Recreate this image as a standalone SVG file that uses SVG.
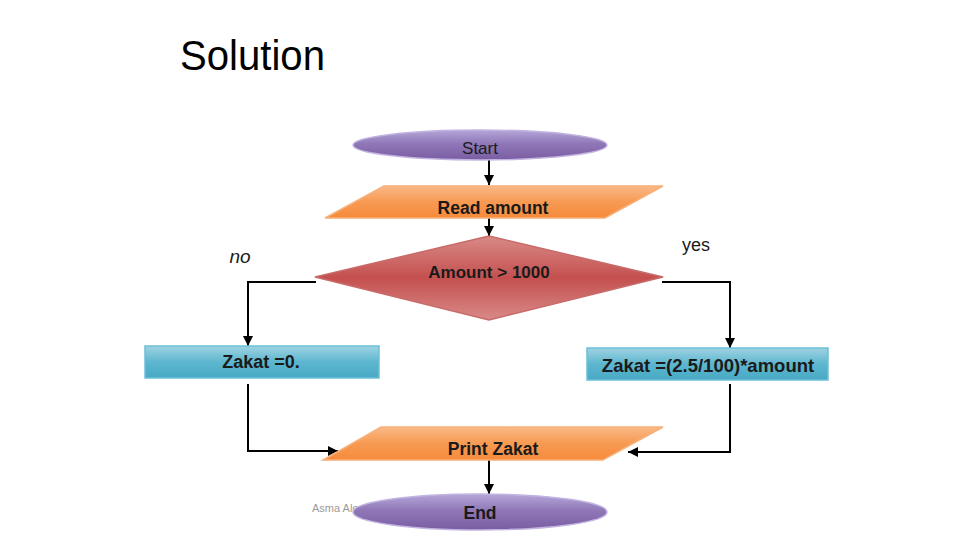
<svg xmlns="http://www.w3.org/2000/svg" width="960" height="540" viewBox="0 0 960 540">
<defs>
<linearGradient id="gPurple" x1="0" y1="0" x2="0" y2="1">
<stop offset="0" stop-color="#b4a6d8"/><stop offset="0.45" stop-color="#9078b8"/><stop offset="1" stop-color="#7a5ca2"/>
</linearGradient>
<linearGradient id="gOrange" x1="0" y1="0" x2="0" y2="1">
<stop offset="0" stop-color="#f9b987"/><stop offset="0.5" stop-color="#f79a52"/><stop offset="1" stop-color="#f58b3c"/>
</linearGradient>
<linearGradient id="gRed" x1="0" y1="0" x2="0" y2="1">
<stop offset="0" stop-color="#d88a88"/><stop offset="0.5" stop-color="#c4504f"/><stop offset="1" stop-color="#d88a88"/>
</linearGradient>
<linearGradient id="gBlue" x1="0" y1="0" x2="0" y2="1">
<stop offset="0" stop-color="#9fd3e2"/><stop offset="0.5" stop-color="#5db6cf"/><stop offset="1" stop-color="#48a9c4"/>
</linearGradient>
<marker id="arr" viewBox="0 0 10 10" refX="10" refY="5" markerWidth="5" markerHeight="5" orient="auto" markerUnits="strokeWidth">
<path d="M0,0 L10,5 L0,10 z" fill="#000"/>
</marker>
<style>
.t{font-family:"Liberation Sans",Arial,sans-serif;fill:#1a1a1a;text-anchor:middle}
.b{font-weight:bold}
.conn{fill:none;stroke:#000;stroke-width:2}
.term{fill:url(#gPurple);stroke:#c2b4e0;stroke-width:1.5}
.io{fill:url(#gOrange);stroke:#f8b07a;stroke-width:1.5}
.dec{fill:url(#gRed);stroke:#c86a68;stroke-width:1.5}
.proc{fill:url(#gBlue);stroke:#6cc0d8;stroke-width:1.5}
</style>
</defs>
<rect width="960" height="540" fill="#fff"/>
<text x="180" y="70" font-family="Liberation Sans, Arial, sans-serif" font-size="42" fill="#000" textLength="145" lengthAdjust="spacingAndGlyphs">Solution</text>
<text x="312" y="512" font-family="Liberation Sans, Arial, sans-serif" font-size="11" fill="#9a9a9a">Asma Alo</text>
<g id="connectors">
<path class="conn" d="M489,160 L489,185" marker-end="url(#arr)"/>
<path class="conn" d="M489,218 L489,236" marker-end="url(#arr)"/>
<path class="conn" d="M316,282 L248,282 L248,346" marker-end="url(#arr)"/>
<path class="conn" d="M662,282 L730,282 L730,348" marker-end="url(#arr)"/>
<path class="conn" d="M248,384 L248,451 L338,451" marker-end="url(#arr)"/>
<path class="conn" d="M730,384 L730,452 L628,452" marker-end="url(#arr)"/>
<path class="conn" d="M489,460 L489,494" marker-end="url(#arr)"/>
</g>
<g id="start">
<ellipse class="term" cx="480" cy="145" rx="127" ry="15"/>
<text class="t" x="480" y="154" font-size="17">Start</text>
</g>
<g id="read">
<polygon class="io" points="384,186 663,186 605,218 325,218"/>
<text class="t b" x="493" y="214" font-size="17.5">Read amount</text>
</g>
<g id="decision">
<polygon class="dec" points="489,236 663,277 489,320 315,277"/>
<text class="t b" x="489" y="278" font-size="17">Amount &gt; 1000</text>
</g>
<text class="t" x="240" y="263" font-size="19" font-style="italic">no</text>
<text class="t" x="696" y="251" font-size="18">yes</text>
<g id="zakat0">
<rect class="proc" x="145" y="346" width="234" height="32"/>
<text class="t b" x="261" y="368" font-size="18">Zakat =0.</text>
</g>
<g id="zakatcalc">
<rect class="proc" x="587" y="348" width="241" height="32"/>
<text class="t b" x="708" y="372" font-size="18.5">Zakat =(2.5/100)*amount</text>
</g>
<g id="print">
<polygon class="io" points="381,427 663,427 603,460 323,460"/>
<text class="t b" x="493" y="455" font-size="17.5">Print Zakat</text>
</g>
<g id="end">
<ellipse class="term" cx="480" cy="512" rx="127" ry="18"/>
<text class="t b" x="480" y="519" font-size="17.5">End</text>
</g>
</svg>
